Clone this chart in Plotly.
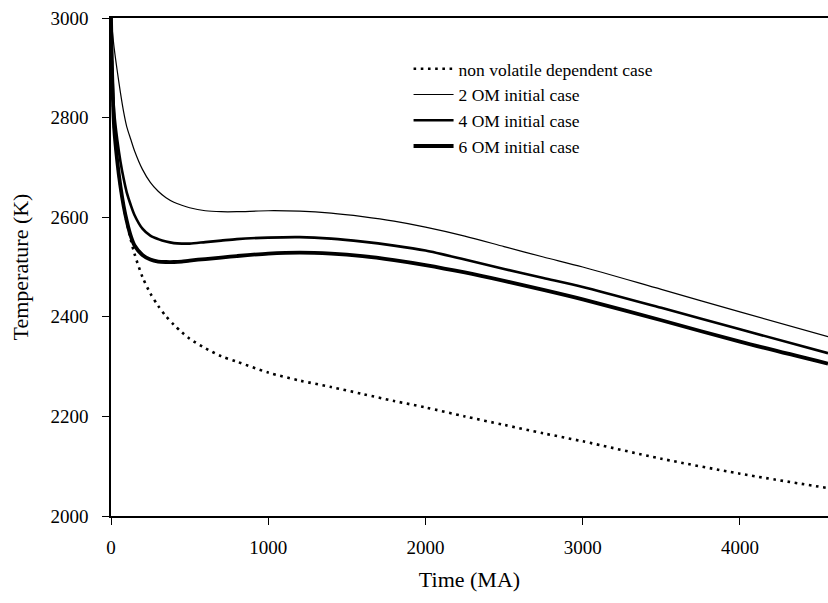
import plotly.graph_objects as go

time_ma = [0, 5, 10, 20, 40, 60, 80, 100, 125, 150, 200, 250, 300, 350, 400, 450, 500,
           600, 700, 800, 1000, 1200, 1400, 1600, 1800, 2000, 2250, 2500, 2750, 3000, 3500, 4000, 4560]

non_volatile = [3000, 2915, 2858, 2780, 2712, 2662, 2623, 2590, 2556, 2526, 2480, 2447, 2422, 2401, 2384, 2369, 2356,
                2337, 2321, 2310, 2288, 2272, 2259, 2245, 2231, 2218, 2200, 2183, 2166, 2150, 2115, 2085, 2056]

om2 = [3000, 2985, 2970, 2940, 2893, 2850, 2812, 2782, 2757, 2733, 2696, 2670, 2652, 2639, 2630, 2624, 2619,
       2613, 2611, 2611, 2613, 2612, 2608, 2601, 2592, 2580, 2562, 2541, 2520, 2500, 2455, 2410, 2360]

om4 = [3000, 2930, 2878, 2812, 2755, 2712, 2678, 2650, 2625, 2604, 2577, 2563, 2556, 2551, 2548, 2547, 2547,
       2550, 2553, 2556, 2559, 2560, 2557, 2551, 2543, 2533, 2515, 2496, 2478, 2460, 2418, 2375, 2327]

om6 = [3000, 2915, 2858, 2780, 2712, 2662, 2623, 2593, 2563, 2543, 2524, 2515, 2511, 2510, 2510, 2511, 2513,
       2516, 2519, 2522, 2527, 2529, 2527, 2522, 2514, 2504, 2489, 2472, 2454, 2435, 2393, 2350, 2306]

series_names = ["non volatile dependent case", "2 OM initial case",
                "4 OM initial case", "6 OM initial case"]
x_ticks = [0, 1000, 2000, 3000, 4000]
y_ticks = [2000, 2200, 2400, 2600, 2800, 3000]

FONT = "Liberation Serif, Times New Roman, serif"

fig = go.Figure()
styles = [
    dict(width=2.6, dash="2.6px,4.6px"),
    dict(width=1.2, dash="solid"),
    dict(width=2.6, dash="solid"),
    dict(width=3.8, dash="solid"),
]
for name, ys, st in zip(series_names, [non_volatile, om2, om4, om6], styles):
    fig.add_trace(go.Scatter(
        x=time_ma, y=ys, mode="lines", name=name,
        line=dict(color="black", width=st["width"], dash=st["dash"], shape="spline", smoothing=0.8),
    ))

fig.update_layout(
    width=828, height=603,
    margin=dict(l=111, r=0, t=18, b=87),
    paper_bgcolor="white", plot_bgcolor="white",
    font=dict(family=FONT, color="black", size=19),
    showlegend=True,
    legend=dict(x=0.415, y=0.934, xanchor="left", yanchor="top",
                bgcolor="rgba(0,0,0,0)", borderwidth=0,
                font=dict(family=FONT, size=17.5, color="black"),
                tracegroupgap=0, itemwidth=40),
)
fig.update_xaxes(
    range=[0, 4560], tickvals=x_ticks, ticks="outside", ticklen=7, tickwidth=1.2,
    tickcolor="black", showline=True, linecolor="black", linewidth=1.5, mirror=True,
    showgrid=False, zeroline=False, ticklabelstandoff=6,
    tickfont=dict(family=FONT, size=19, color="black"),
    title=dict(text="Time (MA)", font=dict(family=FONT, size=22, color="black"), standoff=15),
)
fig.update_yaxes(
    range=[2000, 3000], tickvals=y_ticks, ticks="outside", ticklen=7, tickwidth=1.2,
    tickcolor="black", showline=True, linecolor="black", linewidth=1.5,
    showgrid=False, zeroline=False, ticklabelstandoff=10,
    tickfont=dict(family=FONT, size=19, color="black"),
    title=dict(text="Temperature (K)", font=dict(family=FONT, size=22, color="black"), standoff=16),
)

fig.write_html("out.html")
